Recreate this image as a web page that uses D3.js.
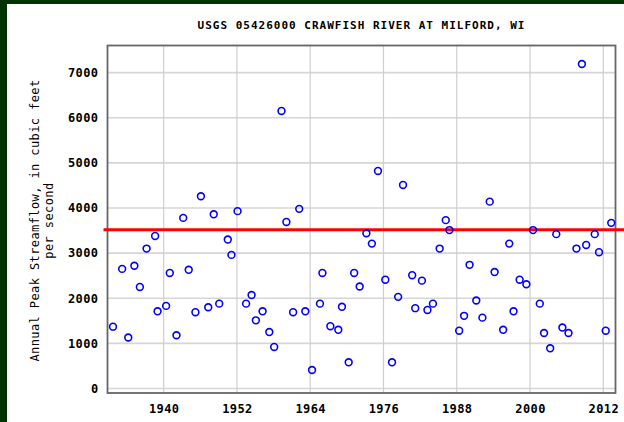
<!DOCTYPE html>
<html>
<head>
<meta charset="utf-8">
<script src="https://cdn.jsdelivr.net/npm/d3@7"></script>
<style>
  html, body { margin: 0; padding: 0; background: #fff; }
  svg { display: block; }
  text { font-family: "DejaVu Sans Mono", "Liberation Mono", monospace; }
</style>
</head>
<body>
<div id="chart"></div>
<script>
// peak dates as decimal years
const peakYears = [
  1931.7, 1933.2, 1934.2, 1935.2, 1936.1, 1937.2, 1938.6, 1939.0, 1940.4, 1941.0,
  1942.1, 1943.2, 1944.1, 1945.2, 1946.1, 1947.3, 1948.2, 1949.1, 1950.5, 1951.1,
  1952.1, 1953.5, 1954.4, 1955.1, 1956.2, 1957.3, 1958.1, 1959.3, 1960.1, 1961.2,
  1962.2, 1963.2, 1964.3, 1965.6, 1966.0, 1967.3, 1968.6, 1969.2, 1970.3, 1971.2,
  1972.1, 1973.2, 1974.1, 1975.1, 1976.3, 1977.4, 1978.4, 1979.2, 1980.7, 1981.2,
  1982.3, 1983.2, 1984.1, 1985.2, 1986.2, 1986.8, 1988.4, 1989.2, 1990.1, 1991.2,
  1992.2, 1993.4, 1994.2, 1995.6, 1996.6, 1997.3, 1998.3, 1999.4, 2000.5, 2001.6,
  2002.3, 2003.3, 2004.3, 2005.3, 2006.3, 2007.6, 2008.5, 2009.2, 2010.6, 2011.3,
  2012.4, 2013.3
];
// annual peak streamflow, cubic feet per second
const peakFlows = [
  1370, 2650, 1130, 2720, 2250, 3100, 3380, 1710, 1830, 2560,
  1180, 3780, 2630, 1690, 4260, 1800, 3860, 1880, 3300, 2960,
  3930, 1880, 2070, 1510, 1710, 1250, 920, 6150, 3690, 1690,
  3980, 1710, 410, 1880, 2560, 1380, 1300, 1810, 580, 2560,
  2260, 3440, 3210, 4820, 2410, 580, 2030, 4510, 2510, 1780,
  2390, 1740, 1880, 3100, 3730, 3510, 1280, 1610, 2740, 1950,
  1570, 4140, 2580, 1300, 3210, 1710, 2410, 2310, 3510, 1880,
  1230, 890, 3420, 1350, 1230, 3100, 7190, 3180, 3420, 3020,
  1280, 3670
];
const meanFlow = 3520;
const xTicks = [1940, 1952, 1964, 1976, 1988, 2000, 2012];
const yTicks = [0, 1000, 2000, 3000, 4000, 5000, 6000, 7000];

const W = 624, H = 422;
const plotLeft = 107.5, plotRight = 615.5, plotTop = 45.5, plotBottom = 393;

const svg = d3.select("#chart").append("svg")
  .attr("width", W)
  .attr("height", H);

// dark green page edge
svg.append("rect").attr("width", W).attr("height", H).attr("fill", "#fff");
svg.append("rect").attr("width", W).attr("height", 4).attr("fill", "#013201");
svg.append("rect").attr("width", 7).attr("height", H).attr("fill", "#013201");

const x = d3.scaleLinear().domain([1930.8, 2014]).range([plotLeft, plotRight]);
const y = d3.scaleLinear().domain([-100, 7600]).range([plotBottom, plotTop]);

// grid
svg.append("g")
  .selectAll("line")
  .data(yTicks)
  .enter().append("line")
  .attr("x1", plotLeft).attr("x2", plotRight)
  .attr("y1", d => y(d)).attr("y2", d => y(d))
  .attr("stroke", "#d6d6d6")
  .attr("stroke-width", 1.6);

svg.append("g")
  .selectAll("line")
  .data(xTicks)
  .enter().append("line")
  .attr("x1", d => x(d)).attr("x2", d => x(d))
  .attr("y1", plotTop).attr("y2", plotBottom)
  .attr("stroke", "#cfcfcf")
  .attr("stroke-width", 1.2);

// frame
svg.append("rect")
  .attr("x", plotLeft).attr("y", plotTop)
  .attr("width", plotRight - plotLeft).attr("height", plotBottom - plotTop)
  .attr("fill", "none")
  .attr("stroke", "#666")
  .attr("stroke-width", 1.8);

// axes labels (no tick marks in original)
const xAxis = d3.axisBottom(x).tickValues(xTicks).tickFormat(d3.format("d")).tickSize(0).tickPadding(11);
svg.append("g")
  .attr("transform", `translate(0,${plotBottom})`)
  .call(xAxis)
  .call(g => g.select(".domain").remove())
  .selectAll("text")
  .attr("font-family", "DejaVu Sans Mono, monospace")
  .attr("font-size", 12)
  .attr("font-weight", "bold")
  .attr("letter-spacing", 0.4)
  .attr("fill", "#000");

const yAxis = d3.axisLeft(y).tickValues(yTicks).tickFormat(d3.format("d")).tickSize(0).tickPadding(9);
svg.append("g")
  .attr("transform", `translate(${plotLeft},0)`)
  .call(yAxis)
  .call(g => g.select(".domain").remove())
  .selectAll("text")
  .attr("font-family", "DejaVu Sans Mono, monospace")
  .attr("font-size", 12)
  .attr("font-weight", "bold")
  .attr("letter-spacing", 0.4)
  .attr("fill", "#000");

// mean line
svg.append("line")
  .attr("x1", plotLeft - 4).attr("x2", W)
  .attr("y1", y(meanFlow)).attr("y2", y(meanFlow))
  .attr("stroke", "#ff0000")
  .attr("stroke-width", 3);

// peaks
svg.append("g")
  .selectAll("circle")
  .data(peakYears.map((yr, i) => ({ yr: yr, q: peakFlows[i] })))
  .enter().append("circle")
  .attr("cx", d => x(d.yr))
  .attr("cy", d => y(d.q))
  .attr("r", 3.4)
  .attr("fill", "none")
  .attr("stroke", "#0000ff")
  .attr("stroke-width", 1.6);

// title
svg.append("text")
  .attr("x", 361.5)
  .attr("y", 29)
  .attr("text-anchor", "middle")
  .attr("font-size", 11)
  .attr("font-weight", "bold")
  .attr("letter-spacing", 1)
  .text("USGS 05426000 CRAWFISH RIVER AT MILFORD, WI");

// y title, two lines
const yTitle = svg.append("text")
  .attr("transform", "translate(38.5,220.5) rotate(-90)")
  .attr("text-anchor", "middle")
  .attr("font-size", 12)
  .attr("letter-spacing", 0.4);
yTitle.append("tspan").attr("x", 0).attr("y", 0).text("Annual Peak Streamflow, in cubic feet");
yTitle.append("tspan").attr("x", 0).attr("y", 14).text("per second");
</script>
</body>
</html>
